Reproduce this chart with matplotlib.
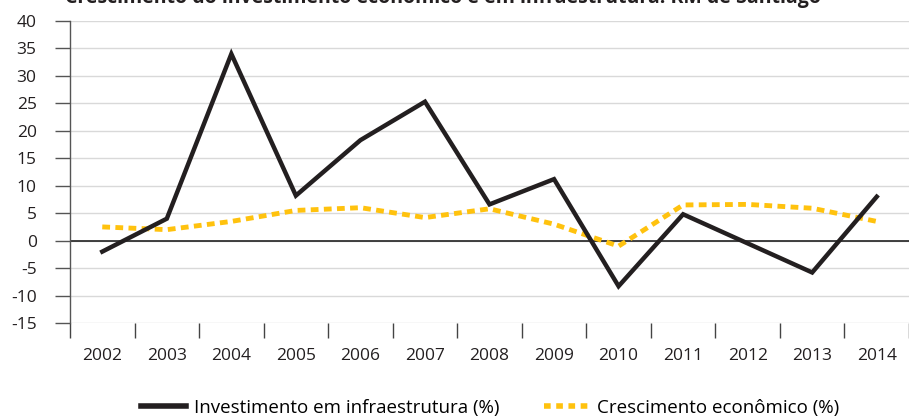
import matplotlib
matplotlib.use("Agg")
import matplotlib.pyplot as plt
from matplotlib.lines import Line2D

years = ["2002", "2003", "2004", "2005", "2006", "2007", "2008",
         "2009", "2010", "2011", "2012", "2013", "2014"]
investimento = [-2.0, 4.0, 34.0, 8.2, 18.3, 25.3, 6.6, 11.2, -8.3, 4.8, -0.5, -5.8, 8.0]
crescimento = [2.5, 2.0, 3.5, 5.5, 6.0, 4.2, 5.8, 3.0, -1.0, 6.5, 6.6, 5.9, 3.5]
yticks = list(range(-15, 45, 5))
title = "Crescimento do investimento econômico e em infraestrutura: RM de Santiago"
labels = ["Investimento em infraestrutura (%)", "Crescimento econômico (%)"]

plt.rcParams['font.family'] = ['Open Sans', 'DejaVu Sans']

W, H = 909, 417
fig = plt.figure(figsize=(W/100, H/100), dpi=100)
ax = fig.add_axes([70/W, 1 - 323/H, (909-70)/W, (323-21)/H])

x = list(range(len(years)))
ax.set_xlim(-0.5, len(years) - 0.5)
ax.set_ylim(-15, 40)

for v in yticks:
    ax.axhline(v, color="#d9d9d9", lw=1, zorder=0)
ax.axhline(0, color="#222222", lw=1.2, zorder=1)

ax.plot(x, investimento, color="#231f20", lw=3.2, solid_joinstyle="miter", zorder=3)
ax.plot(x, crescimento, color="#ffc20e", lw=3.5, linestyle=(0, (1.6, 1.1)), zorder=2)

ax.set_yticks(yticks)
ax.set_yticklabels([str(v) for v in yticks], fontsize=12.5, color="#231f20")
ax.tick_params(axis='y', length=11, width=1, color="#555555", pad=13)

ax.set_xticks(x)
ax.set_xticklabels(years, fontsize=12.5, color="#231f20")
ax.tick_params(axis='x', length=0, pad=18)
ax.set_xticks([i - 0.5 for i in range(len(years) + 1)], minor=True)
ax.tick_params(axis='x', which='minor', length=11, width=1, color="#444444")

for s in ["top", "right", "bottom"]:
    ax.spines[s].set_visible(False)
ax.spines["left"].set_color("#555555")
ax.spines["left"].set_linewidth(1)

fig.text(443 / W, 1 - 3/H, title, ha="center", va="baseline",
         fontsize=14, fontweight="bold", color="#231f20")

handles = [Line2D([], [], color="#231f20", lw=4),
           Line2D([], [], color="#ffc20e", lw=4, linestyle=(0, (1.2, 1.0)))]
fig.legend(handles, labels, loc="center", bbox_to_anchor=(490/W, 1 - 408/H), ncol=2,
           frameon=False, fontsize=13.5, handlelength=2.4, columnspacing=2.4,
           handletextpad=0.4, borderpad=0)

fig.savefig("out.png", dpi=100)
